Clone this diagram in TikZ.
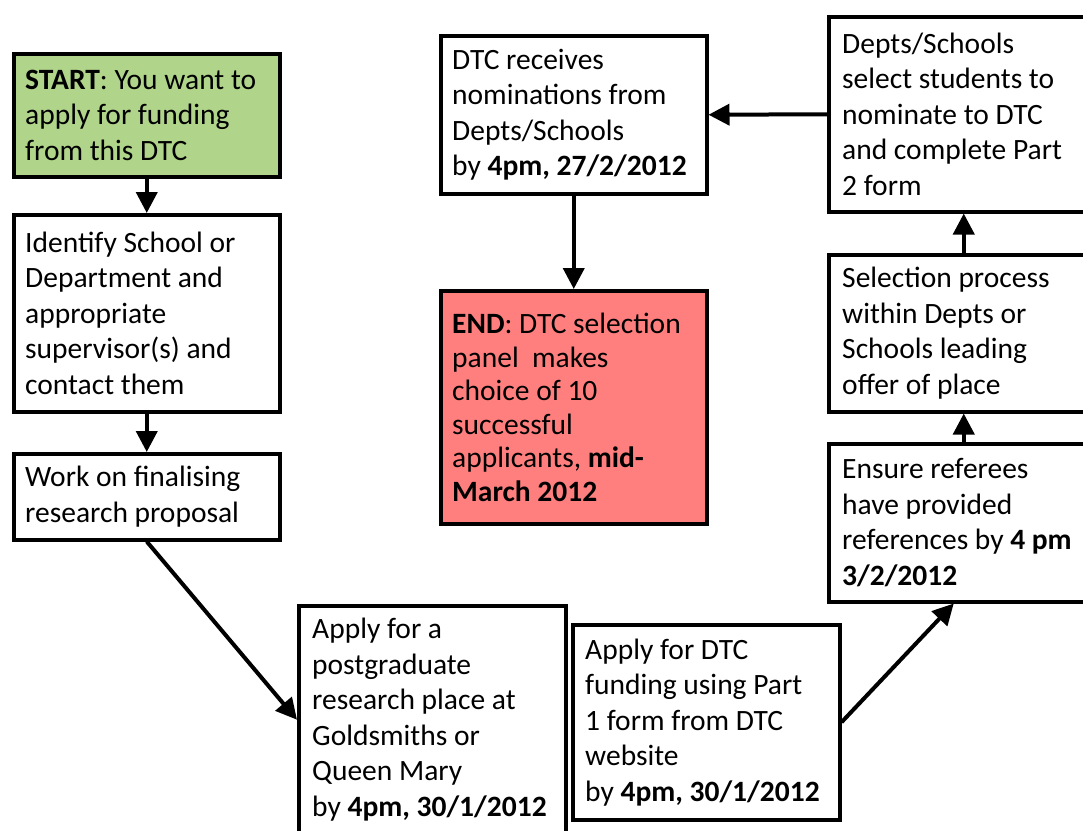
\documentclass[tikz,border=0pt]{standalone}
\usepackage{fontspec}
\setmainfont{Carlito}
\usetikzlibrary{arrows.meta}
\definecolor{startgreen}{RGB}{176,212,138}
\definecolor{endred}{RGB}{255,127,127}
\begin{document}
\begin{tikzpicture}[x=1pt,y=-1pt,
  box/.style={draw=black, line width=3.5pt, fill=white, anchor=north west,
    inner sep=0pt},
  txt/.style={anchor=west, align=left, inner sep=0pt,
    font=\fontsize{29.5}{35.5}\selectfont},
  arr/.style={line width=4pt, -{Triangle[length=21pt,width=21pt]}}]
\useasboundingbox (0,0) rectangle (1083,830);
\clip (0,0) rectangle (1083,830);
\fill[white] (0,0) rectangle (1083,830);
% left column
\node[box, fill=startgreen, minimum width=266pt, minimum height=123pt] (start) at (12,52) {};
\node[txt] (startT) at ([xshift=13pt]start.west)
  {\textbf{START}: You want to\\apply for funding\\from this DTC};
\node[box, minimum width=266pt, minimum height=197pt] (ident) at (12,213) {};
\node[txt] (identT) at ([xshift=13pt]ident.west)
  {Identify School or\\Department and\\appropriate\\supervisor(s) and\\contact them};
\node[box, minimum width=266pt, minimum height=86pt] (work) at (12,452) {};
\node[txt] (workT) at ([xshift=13pt]work.west)
  {Work on finalising\\research proposal};
% middle column
\node[box, minimum width=266pt, minimum height=158pt] (recv) at (439,34) {};
\node[txt] (recvT) at ([xshift=13pt]recv.west)
  {DTC receives\\nominations from\\Depts/Schools\\by \textbf{4pm, 27/2/2012}};
\node[box, fill=endred, minimum width=266pt, minimum height=233pt] (endn) at (439,289) {};
\node[txt, font=\fontsize{29.5}{33.5}\selectfont] (endT) at ([xshift=13pt]endn.west)
  {\textbf{END}: DTC selection\\panel\ \ makes\\choice of 10\\successful\\applicants, \textbf{mid-}\\\textbf{March 2012}};
% right column
\node[box, minimum width=270pt, minimum height=195pt] (depts) at (827,15) {};
\node[txt] (deptsT) at ([xshift=15pt]depts.west)
  {Depts/Schools\\select students to\\nominate to DTC\\and complete Part\\2 form};
\node[box, minimum width=270pt, minimum height=157pt] (sel) at (827,253) {};
\node[txt] (selT) at ([xshift=15pt]sel.west)
  {Selection process\\within Depts or\\Schools leading\\offer of place};
\node[box, minimum width=270pt, minimum height=158pt] (ens) at (827,442) {};
\node[txt] (ensT) at ([xshift=15pt]ens.west)
  {Ensure referees\\have provided\\references by \textbf{4 pm}\\\textbf{3/2/2012}};
% bottom row
\node[box, minimum width=267pt, minimum height=228pt] (pg) at (297,604) {};
\node[txt] (pgT) at ([xshift=15pt]pg.west)
  {Apply for a\\postgraduate\\research place at\\Goldsmiths or\\Queen Mary\\by \textbf{4pm, 30/1/2012}};
\node[box, minimum width=267pt, minimum height=195pt] (fund) at (571,623) {};
\node[txt] (fundT) at ([xshift=14pt]fund.west)
  {Apply for DTC\\funding using Part\\1 form from DTC\\website\\by \textbf{4pm, 30/1/2012}};
% connectors
\draw[arr] (start.south) -- (ident.north);
\draw[arr] (ident.south) -- (work.north);
\draw[arr] (work.south) -- (pg.west);
\draw[arr] (fund.east) -- ([xshift=-10pt]ens.south);
\draw[arr] (ens.north) -- (sel.south);
\draw[arr] (sel.north) -- (depts.south);
\draw[arr] (depts.west) -- (recv.east);
\draw[arr] (recv.south) -- (endn.north);
\end{tikzpicture}
\end{document}
